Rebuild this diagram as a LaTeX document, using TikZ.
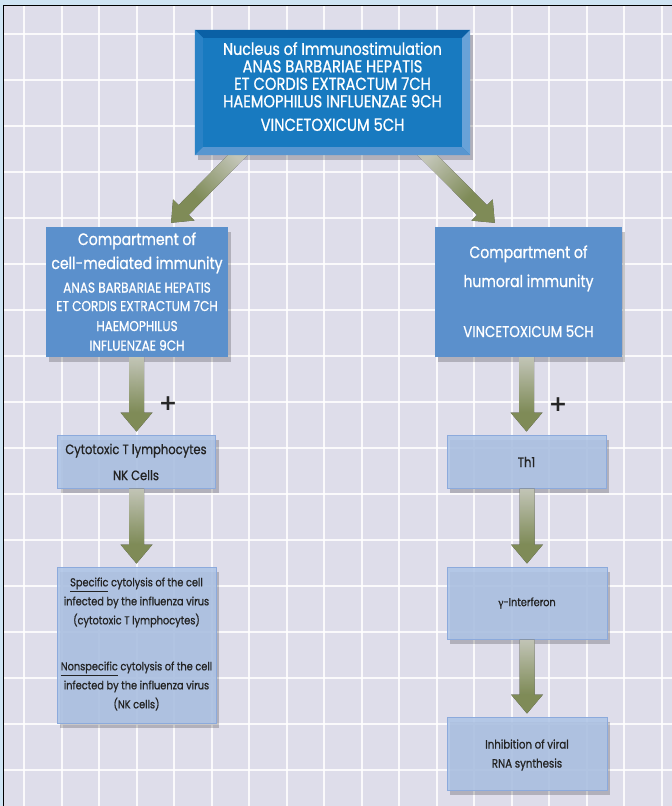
\documentclass[tikz,border=0pt]{standalone}
\usepackage{fontspec}
\usetikzlibrary{calc,shadows}
\newfontfamily\cond[FakeStretch=0.85, FakeBold=0.8]{Poppins}
\newfontfamily\greekf[FakeBold=0.8]{Liberation Serif}
\newfontfamily\plusf{DejaVu Sans}
\definecolor{bgc}{RGB}{222,221,234}
\definecolor{band}{RGB}{207,228,243}
\definecolor{compc}{RGB}{91,144,204}
\definecolor{lightc}{RGB}{174,196,230}
\definecolor{lightb}{RGB}{140,170,220}
\definecolor{topface}{RGB}{24,122,192}
\definecolor{bevtop}{RGB}{10,96,165}
\definecolor{bevleft}{RGB}{42,130,198}
\definecolor{bevright}{RGB}{104,162,216}
\definecolor{bevbot}{RGB}{88,150,208}
\definecolor{olive}{RGB}{141,155,96}
\definecolor{palegr}{RGB}{218,221,205}
\definecolor{txtd}{RGB}{35,35,35}
\pgfdeclareverticalshading{arrowsh}{100bp}{color(0bp)=(olive); color(38bp)=(olive); color(75bp)=(palegr); color(100bp)=(palegr)}
\newcommand\szA{\fontsize{16.5}{19}\selectfont}
\newcommand\szT{\fontsize{16.8}{16}\selectfont}
\newcommand\varrow[2]{%
  \fill[arrowfill] let \p1=(#1.south), \p2=(#2.north) in
    (\x2-7.5pt,\y1) -- (\x2+7.5pt,\y1) -- (\x2+7.5pt,\y2+22pt) -- (\x2+16pt,\y2+22pt)
    -- (\x2,\y2+3pt) -- (\x2-16pt,\y2+22pt) -- (\x2-7.5pt,\y2+22pt) -- cycle;}
\newcommand\darrow[3]{%
  \coordinate (dH) at ($(#2)!18pt!(#1)$);
  \fill[arrowfill, shading angle=#3] ($(#1)!7pt!90:(#2)$) -- ($(dH)!7pt!90:(#2)$)
    -- ($(dH)!15pt!90:(#2)$) -- (#2) -- ($(dH)!15pt!-90:(#2)$)
    -- ($(dH)!7pt!-90:(#2)$) -- ($(#1)!7pt!-90:(#2)$) -- cycle;}
\tikzset{
  gridl/.style={white, line width=2pt, opacity=0.85},
  arrowfill/.style={shading=arrowsh, opacity=0.88},
  boxshadow/.style={drop shadow={shadow xshift=3pt, shadow yshift=-5pt, opacity=0.2, fill=black}},
  topbox/.style={fill=topface, inner sep=0, boxshadow, minimum width=275pt, minimum height=125pt},
  compbox/.style={fill=compc, inner sep=0, boxshadow},
  lightbox/.style={fill=lightc, fill opacity=0.88, draw=lightb, line width=1pt, inner sep=0, boxshadow},
  wt/.style={text=white, align=center, inner sep=0},
  dt/.style={text=txtd, align=center, inner sep=0},
  plusmark/.style={inner sep=0, font=\plusf\bfseries\fontsize{22}{22}\selectfont, text=black!85},
}
\begin{document}
\begin{tikzpicture}[x=1pt,y=-1pt]
\useasboundingbox (0,0) rectangle (672,806);
\fill[band] (0,0) rectangle (672,806);
\fill[bgc] (3.5,5.5) rectangle (672,806);
\foreach \i in {0,...,17} \draw[gridl] ({24+37.5*\i},5.5) -- ({24+37.5*\i},806);
\foreach \j in {0,...,16} \draw[gridl] (3.5,{34+46*\j}) -- (672,{34+46*\j});
\draw[black, line width=1.3pt] (3.5,806) -- (3.5,5.5) -- (672,5.5);

% boxes
\node[topbox] (top) at (332.5,92.5) {};
\node[compbox, minimum width=182pt, minimum height=130pt] (cm) at (137,292) {};
\node[compbox, minimum width=187pt, minimum height=130pt] (hm) at (528.5,292) {};
\node[lightbox, minimum width=158pt, minimum height=53pt] (cyt) at (136.5,461.5) {};
\node[lightbox, minimum width=159pt, minimum height=53pt] (th1) at (526.5,461.5) {};
\node[lightbox, minimum width=159pt, minimum height=156pt] (spec) at (136.5,645) {};
\node[lightbox, minimum width=160pt, minimum height=72pt] (ifn) at (527,603) {};
\node[lightbox, minimum width=160pt, minimum height=73pt] (inh) at (527,753.5) {};

% diagonal arrows
\coordinate (sL) at ($(top.south west)!0.155!(top.south east)+(5,-5)$);
\coordinate (tL) at ($(cm.north west)!0.687!(cm.north east)+(0,-4)$);
\coordinate (sR) at ($(top.south west)!0.845!(top.south east)+(-5,-5)$);
\coordinate (tR) at ($(hm.north west)!0.32!(hm.north east)+(0,-4)$);
\darrow{sL}{tL}{-45}
\darrow{sR}{tR}{45}

% bevel of top box
\fill[topface] (top.north west) rectangle (top.south east);
\fill[bevtop] (top.north west) -- (top.north east) -- ($(top.north east)+(-8,8)$) -- ($(top.north west)+(8,8)$) -- cycle;
\fill[bevleft] (top.north west) -- ($(top.north west)+(8,8)$) -- ($(top.south west)+(8,-8)$) -- (top.south west) -- cycle;
\fill[bevright] (top.north east) -- (top.south east) -- ($(top.south east)+(-8,-8)$) -- ($(top.north east)+(-8,8)$) -- cycle;
\fill[bevbot] (top.south west) -- (top.south east) -- ($(top.south east)+(-8,-8)$) -- ($(top.south west)+(8,-8)$) -- cycle;

% vertical arrows
\varrow{cm}{cyt}
\varrow{cyt}{spec}
\varrow{hm}{th1}
\varrow{th1}{ifn}
\varrow{ifn}{inh}

% texts
\node[wt, font=\cond\fontsize{17.3}{16}\selectfont] (topT) at (332.5,86.5)
  {{\szT Nucleus of Immunostimulation}\\[1.5pt] ANAS BARBARIAE HEPATIS\\[1.5pt] ET CORDIS EXTRACTUM 7CH\\[1.5pt] HAEMOPHILUS INFLUENZAE 9CH\\[7.5pt] VINCETOXICUM 5CH};
\node[wt, font=\cond\fontsize{14.2}{19}\selectfont] (cmT) at (137,291.5)
  {{\szA Compartment of}\\[5pt] {\szA cell-mediated immunity}\\[4.5pt] ANAS BARBARIAE HEPATIS\\[-0.5pt] ET CORDIS EXTRACTUM 7CH\\[1pt] HAEMOPHILUS\\[0.5pt] INFLUENZAE 9CH};
\node[wt, font=\cond\fontsize{15.7}{19}\selectfont] (hmT) at (528.5,291.3)
  {{\szA Compartment of}\\[10pt] {\szA humoral immunity}\\[31pt] VINCETOXICUM 5CH};
\node[dt, font=\cond\fontsize{13.6}{26}\selectfont] (cytT) at (136,462) {Cytotoxic T lymphocytes\\NK Cells};
\node[dt, font=\cond\fontsize{13.6}{26}\selectfont] (th1T) at (526.5,462) {Th1};
\node[dt, font=\cond\fontsize{11.5}{19}\selectfont] (specT) at (136.5,644)
  {\underline{Specific} cytolysis of the cell\\infected by the influenza virus\\(cytotoxic T lymphocytes)\\[27pt]
   \underline{Nonspecific} cytolysis of the cell\\infected by the influenza virus\\(NK cells)};
\node[dt, font=\cond\fontsize{11.4}{19}\selectfont] (ifnT) at (527,603) {{\greekf γ}-Interferon};
\node[dt, font=\cond\fontsize{12}{19}\selectfont] (inhT) at (527,755) {Inhibition of viral\\RNA synthesis};

% plus signs
\node[plusmark] (plusL) at (168,404) {+};
\node[plusmark] (plusR) at (558,405) {+};
\end{tikzpicture}
\end{document}
